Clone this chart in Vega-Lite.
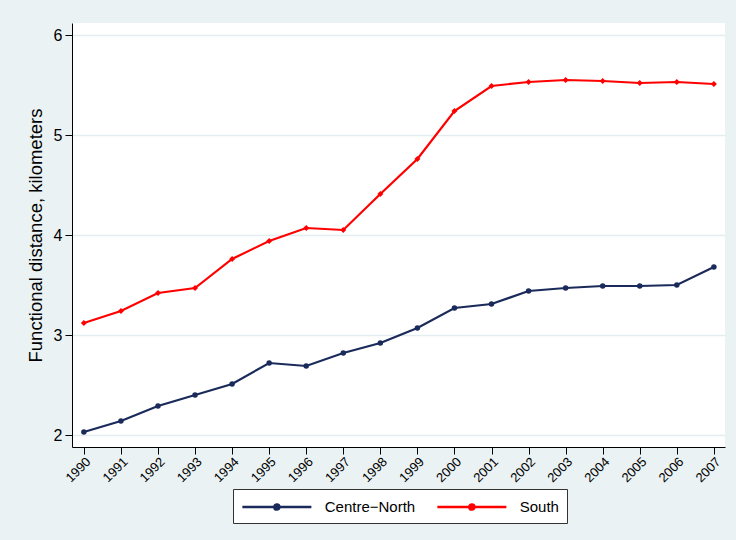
{
  "$schema": "https://vega.github.io/schema/vega-lite/v6.json",
  "autosize": "none",
  "width": 653,
  "height": 424,
  "padding": {"left": 72, "top": 23, "right": 11, "bottom": 93},
  "background": "#EAF2F3",
  "config": {
    "view": {"fill": "white", "stroke": null},
    "font": "Liberation Sans",
    "axis": {"domainColor": "black", "tickColor": "black", "labelColor": "black", "titleColor": "black", "titleFontWeight": "normal"}
  },
  "data": {
    "values": [
      {"year": 1990, "region": "Centre−North", "value": 2.03},
      {"year": 1991, "region": "Centre−North", "value": 2.14},
      {"year": 1992, "region": "Centre−North", "value": 2.29},
      {"year": 1993, "region": "Centre−North", "value": 2.40},
      {"year": 1994, "region": "Centre−North", "value": 2.51},
      {"year": 1995, "region": "Centre−North", "value": 2.72},
      {"year": 1996, "region": "Centre−North", "value": 2.69},
      {"year": 1997, "region": "Centre−North", "value": 2.82},
      {"year": 1998, "region": "Centre−North", "value": 2.92},
      {"year": 1999, "region": "Centre−North", "value": 3.07},
      {"year": 2000, "region": "Centre−North", "value": 3.27},
      {"year": 2001, "region": "Centre−North", "value": 3.31},
      {"year": 2002, "region": "Centre−North", "value": 3.44},
      {"year": 2003, "region": "Centre−North", "value": 3.47},
      {"year": 2004, "region": "Centre−North", "value": 3.49},
      {"year": 2005, "region": "Centre−North", "value": 3.49},
      {"year": 2006, "region": "Centre−North", "value": 3.50},
      {"year": 2007, "region": "Centre−North", "value": 3.68},
      {"year": 1990, "region": "South", "value": 3.12},
      {"year": 1991, "region": "South", "value": 3.24},
      {"year": 1992, "region": "South", "value": 3.42},
      {"year": 1993, "region": "South", "value": 3.47},
      {"year": 1994, "region": "South", "value": 3.76},
      {"year": 1995, "region": "South", "value": 3.94},
      {"year": 1996, "region": "South", "value": 4.07},
      {"year": 1997, "region": "South", "value": 4.05},
      {"year": 1998, "region": "South", "value": 4.41},
      {"year": 1999, "region": "South", "value": 4.76},
      {"year": 2000, "region": "South", "value": 5.24},
      {"year": 2001, "region": "South", "value": 5.49},
      {"year": 2002, "region": "South", "value": 5.53},
      {"year": 2003, "region": "South", "value": 5.55},
      {"year": 2004, "region": "South", "value": 5.54},
      {"year": 2005, "region": "South", "value": 5.52},
      {"year": 2006, "region": "South", "value": 5.53},
      {"year": 2007, "region": "South", "value": 5.51}
    ]
  },
  "encoding": {
    "x": {
      "field": "year", "type": "quantitative",
      "scale": {"domain": [1989.68, 2007.3], "nice": false, "zero": false},
      "axis": {
        "title": null, "values": [1990,1991,1992,1993,1994,1995,1996,1997,1998,1999,2000,2001,2002,2003,2004,2005,2006,2007],
        "format": "d", "grid": false, "labelAngle": -45, "labelFontSize": 13, "tickSize": 7, "labelPadding": 1, "labelFlush": false
      }
    },
    "y": {
      "field": "value", "type": "quantitative",
      "scale": {"domain": [1.88, 6.12], "nice": false, "zero": false},
      "axis": {
        "title": "Functional distance, kilometers", "titleFontSize": 18.5, "titlePadding": 8,
        "values": [2,3,4,5,6], "format": "d", "labelFontSize": 16, "tickSize": 7, "labelPadding": 3,
        "grid": true, "gridColor": "#E4EEF0", "gridWidth": 1.5, "labelFlush": false
      }
    },
    "color": {
      "field": "region", "type": "nominal",
      "scale": {"domain": ["Centre−North", "South"], "range": ["#1A2A5A", "#FF0000"]},
      "legend": {
        "title": null, "orient": "none", "direction": "horizontal", "legendX": 161, "legendY": 466,
        "fillColor": "white", "strokeColor": "#333333", "padding": 8,
        "labelFontSize": 15, "labelOffset": 63.75, "columnPadding": 16,
        "symbolType": "M-1,0H7M3.3,0A0.3,0.3 0 1,1 2.7,0A0.3,0.3 0 1,1 3.3,0Z",
        "symbolSize": 297.6, "symbolStrokeWidth": 2.5,
        "encode": {
          "symbols": {
            "update": {
              "fill": {"scale": "color", "field": "value"},
              "stroke": {"scale": "color", "field": "value"},
              "strokeWidth": {"value": 2.5},
              "opacity": {"value": 1}
            }
          }
        }
      }
    }
  },
  "layer": [
    {"mark": {"type": "line", "strokeWidth": 2.2}},
    {
      "transform": [{"filter": "datum.region === 'Centre−North'"}],
      "mark": {"type": "point", "filled": true, "opacity": 1, "shape": "circle", "size": 30}
    },
    {
      "transform": [{"filter": "datum.region === 'South'"}],
      "mark": {"type": "point", "filled": true, "opacity": 1, "shape": "diamond", "size": 36}
    }
  ]
}
